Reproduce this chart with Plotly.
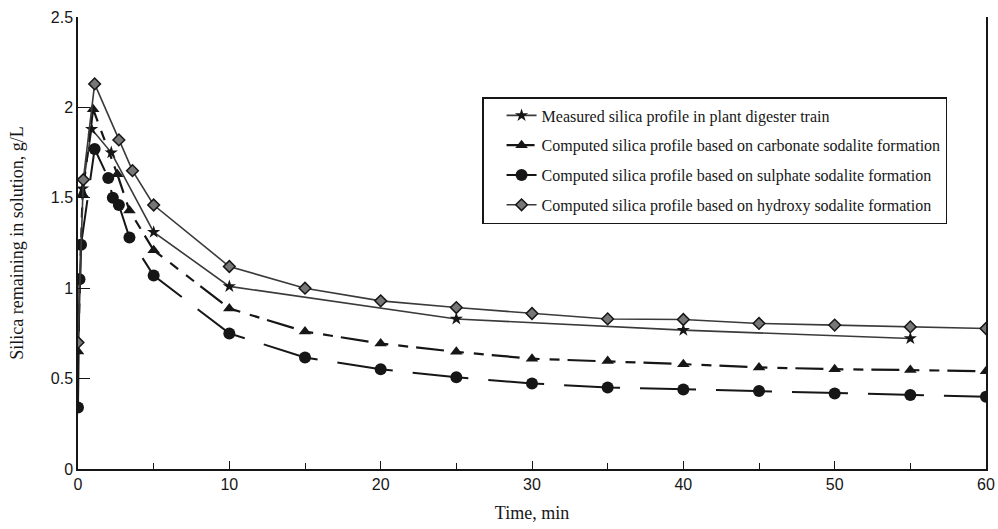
import plotly.graph_objects as go

# Time (min) and silica remaining (g/L)
t_measured = [0.3, 0.9, 2.2, 5, 10, 25, 40, 55]
si_measured = [1.55, 1.88, 1.75, 1.31, 1.01, 0.83, 0.768, 0.722]

t_carbonate = [0, 0.3, 1.0, 2.6, 3.4, 5, 10, 15, 20, 25, 30, 35, 40, 45, 50, 55, 60]
si_carbonate = [0.65, 1.52, 1.99, 1.63, 1.43, 1.21, 0.888, 0.76, 0.694, 0.648, 0.61,
                0.597, 0.58, 0.562, 0.552, 0.547, 0.541]

t_sulphate = [0, 0.1, 0.2, 1.1, 2.0, 2.3, 2.7, 3.4, 5, 10, 15, 20, 25, 30, 35, 40, 45, 50, 55, 60]
si_sulphate = [0.34, 1.05, 1.24, 1.77, 1.61, 1.50, 1.46, 1.28, 1.07, 0.75, 0.617, 0.552,
               0.507, 0.473, 0.451, 0.44, 0.431, 0.418, 0.409, 0.40]

t_hydroxy = [0, 0.35, 1.1, 2.7, 3.6, 5, 10, 15, 20, 25, 30, 35, 40, 45, 50, 55, 60]
si_hydroxy = [0.70, 1.60, 2.13, 1.82, 1.65, 1.46, 1.12, 1.00, 0.93, 0.893, 0.86, 0.83,
              0.827, 0.805, 0.796, 0.786, 0.777]

names = [
    "Measured silica profile in plant digester train",
    "Computed silica profile based on carbonate sodalite formation",
    "Computed silica profile based on sulphate sodalite formation",
    "Computed silica profile based on hydroxy sodalite formation",
]

ink = "#161616"
line_col = "#3a3a3a"
serif = "Liberation Serif, Times New Roman, serif"
sans = "Liberation Sans, Arial, sans-serif"

fig = go.Figure()
fig.add_trace(go.Scatter(
    x=t_measured, y=si_measured, name=names[0], mode="lines+markers",
    line=dict(color=line_col, width=1.6),
    marker=dict(symbol="star", size=10, color=ink),
    legendgroup="a"))
fig.add_trace(go.Scatter(
    x=t_carbonate, y=si_carbonate, name=names[1], mode="lines+markers",
    line=dict(color=ink, width=2.2, dash="28px,10px,10px,10px,10px,8px"),
    marker=dict(symbol="triangle-up", size=11, color=ink),
    legendgroup="b"))
fig.add_trace(go.Scatter(
    x=t_sulphate, y=si_sulphate, name=names[2], mode="lines+markers",
    line=dict(color=ink, width=2.0, dash="56px,20px"),
    marker=dict(symbol="circle", size=12, color=ink),
    legendgroup="c"))
fig.add_trace(go.Scatter(
    x=t_hydroxy, y=si_hydroxy, name=names[3], mode="lines+markers",
    line=dict(color=line_col, width=1.6),
    marker=dict(symbol="diamond", size=9, color="#777777",
                line=dict(color=ink, width=1.5)),
    legendgroup="d"))

fig.update_layout(
    width=998, height=529,
    margin=dict(l=78, r=12, t=17, b=60),
    paper_bgcolor="white", plot_bgcolor="white",
    showlegend=True,
    legend=dict(
        x=0.445, y=0.823, xanchor="left", yanchor="top",
        bordercolor=ink, borderwidth=1.5, bgcolor="white",
        font=dict(family=serif, size=16, color=ink),
        tracegroupgap=6, traceorder="grouped",
        itemwidth=30, indentation=18,
    ),
    xaxis=dict(
        range=[0, 60], tickvals=[0, 10, 20, 30, 40, 50, 60],
        ticks="inside", ticklen=8, tickwidth=1.2, tickcolor=ink,
        minor=dict(tickvals=[5, 15, 25, 35, 45, 55], ticks="inside", ticklen=6,
                   tickwidth=1.2, tickcolor=ink),
        showline=True, linecolor=ink, linewidth=1.5, mirror=False,
        showgrid=False, zeroline=False, automargin=False,
        tickfont=dict(family=sans, size=16, color=ink),
        title=dict(text="Time, min", font=dict(family=serif, size=18, color=ink), standoff=14),
    ),
    yaxis=dict(
        range=[0, 2.5], tickvals=[0, 0.5, 1, 1.5, 2, 2.5],
        ticktext=["0", "0.5", "1", "1.5", "2", "2.5"],
        ticks="inside", ticklen=12, tickwidth=1.2, tickcolor=ink,
        showline=True, linecolor=ink, linewidth=1.5, mirror=True,
        showgrid=False, zeroline=False, automargin=False,
        tickfont=dict(family=sans, size=16, color=ink),
        title=dict(text="Silica remaining in solution, g/L",
                   font=dict(family=serif, size=18, color=ink), standoff=22),
    ),
)

fig.write_html(
    "out.html",
    config={"displayModeBar": False},
    post_script="document.body.style.margin='0';document.body.style.overflow='hidden';",
)
